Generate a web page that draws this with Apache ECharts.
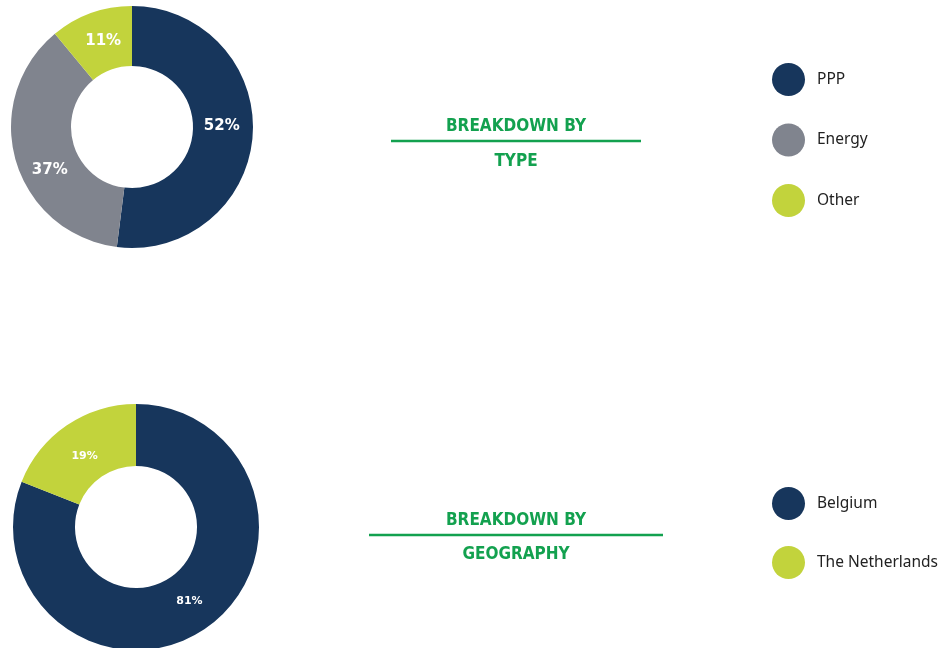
<!DOCTYPE html>
<html>
<head>
<meta charset="utf-8">
<script src="https://cdn.jsdelivr.net/npm/echarts@6/dist/echarts.min.js"></script>
<style>
  html, body { margin: 0; padding: 0; background: #fff; }
  #chart { width: 941px; height: 648px; }
</style>
</head>
<body>
<div id="chart"></div>
<script>
// breakdown by type
const typeNames = ['PPP', 'Energy', 'Other'];
const typeValues = [52, 37, 11];
// breakdown by geography
const geoNames = ['Belgium', 'The Netherlands'];
const geoValues = [81, 19];

const navy = '#17365c';
const grey = '#80848e';
const lime = '#c2d33c';
const green = '#13a14f';

const chart = echarts.init(document.getElementById('chart'));

// small nudges so the labels sit where the original has them
function pieData(names, values, colors, offsets) {
  return names.map((n, i) => ({
    name: n,
    value: values[i],
    itemStyle: { color: colors[i] },
    label: { offset: offsets[i] }
  }));
}

function heading(text, y) {
  return {
    type: 'text',
    x: 516,
    y: y,
    style: {
      text: text,
      fill: green,
      font: 'bold 17px "DejaVu Sans Condensed", "DejaVu Sans"',
      textAlign: 'center',
      textVerticalAlign: 'middle'
    }
  };
}

const legendBase = {
  orient: 'vertical',
  left: 772,
  padding: 0,
  icon: 'circle',
  itemWidth: 33,
  itemHeight: 33,
  selectedMode: false,
  textStyle: { color: '#222', fontSize: 15.5, fontFamily: 'Noto Sans', padding: [0, 0, 0, 7] }
};

const option = {
  animation: false,
  graphic: [
    heading('BREAKDOWN BY', 126.5),
    heading('TYPE', 161.5),
    heading('BREAKDOWN BY', 520.5),
    heading('GEOGRAPHY', 554.5),
    { type: 'line', shape: { x1: 391, y1: 141, x2: 641, y2: 141 }, style: { stroke: green, lineWidth: 2.5 } },
    { type: 'line', shape: { x1: 369, y1: 535, x2: 663, y2: 535 }, style: { stroke: green, lineWidth: 2.5 } }
  ],
  legend: [
    Object.assign({}, legendBase, { data: typeNames, top: 63, itemGap: 27.5 }),
    Object.assign({}, legendBase, { data: geoNames, top: 487, itemGap: 26 })
  ],
  series: [
    {
      type: 'pie',
      center: [132, 127],
      radius: [61, 121],
      startAngle: 90,
      clockwise: true,
      silent: true,
      label: {
        position: 'inside',
        formatter: '{c}%',
        color: '#fff',
        fontSize: 15,
        fontWeight: 'bold',
        fontFamily: 'DejaVu Sans'
      },
      labelLine: { show: false },
      data: pieData(typeNames, typeValues, [navy, grey, lime], [[-4, -7], [8, 17], [3, 3]])
    },
    {
      type: 'pie',
      center: [136, 527],
      radius: [61, 123],
      startAngle: 90,
      clockwise: true,
      silent: true,
      label: {
        position: 'inside',
        formatter: '{c}%',
        color: '#fff',
        fontSize: 11,
        fontWeight: 'bold',
        fontFamily: 'DejaVu Sans'
      },
      labelLine: { show: false },
      data: pieData(geoNames, geoValues, [navy, lime], [[0, -4], [2, 8]])
    }
  ]
};

chart.setOption(option);
</script>
</body>
</html>
